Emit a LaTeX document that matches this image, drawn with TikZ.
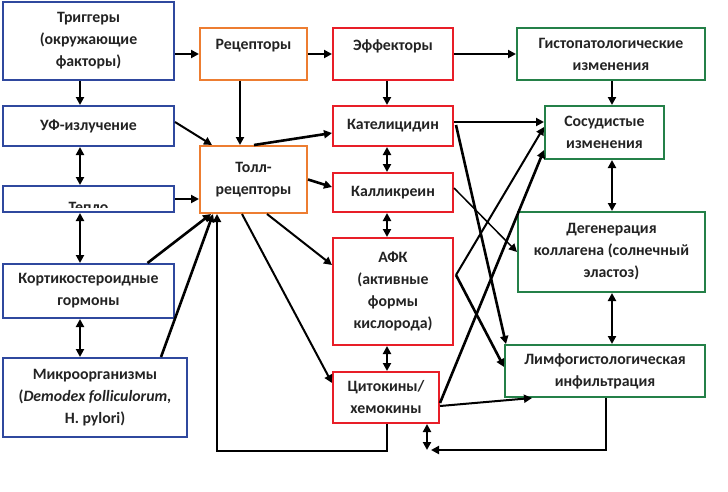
\documentclass[tikz,border=0pt]{standalone}
\usepackage{fontspec}
\setmainfont{Carlito}
\usetikzlibrary{arrows.meta,calc}
\definecolor{bblue}{RGB}{47,72,158}
\definecolor{borange}{RGB}{237,125,49}
\definecolor{bred}{RGB}{232,30,40}
\definecolor{bgreen}{RGB}{36,128,72}
\definecolor{txt}{RGB}{35,35,35}
\tikzset{
  box/.style={draw, line width=2pt, align=center, inner sep=0pt, text=txt,
    font=\fontsize{15.8}{22}\selectfont\bfseries},
  bluebox/.style={box, draw=bblue},
  orbox/.style={box, draw=borange},
  redbox/.style={box, draw=bred},
  grbox/.style={box, draw=bgreen},
  arr/.style={line width=2pt, -{Triangle[length=8pt,width=8pt]}},
  thickarr/.style={line width=2.6pt, -{Triangle[length=8pt,width=8pt]}},
  thinarr/.style={line width=1.5pt, -{Triangle[length=8pt,width=8pt]}},
  dbl/.style={line width=2.6pt, {Triangle[length=8pt,width=8pt]}-{Triangle[length=8pt,width=8pt]}},
}
\begin{document}
\begin{tikzpicture}[x=1pt,y=-1pt]
\useasboundingbox (0,0) rectangle (728,491);
% left column
\node[bluebox, minimum width=171pt, minimum height=78pt] (trig) at (88.5,41) {Триггеры\\(окружающие\\факторы)};
\node[bluebox, minimum width=171pt, minimum height=40pt] (uf) at (88.5,126) {УФ-излучение};
\begin{scope}
  \clip (4,187) rectangle (173,207);
  \node[text=txt, font=\fontsize{15.8}{22}\selectfont\bfseries, anchor=base] (teplotext) at (88.5,212) {Тепло};
\end{scope}
\node[bluebox, minimum width=171pt, minimum height=26pt] (teplo) at (88.5,199) {};
\node[bluebox, minimum width=171pt, minimum height=54pt] (kort) at (88.5,291) {Кортикостероидные\\гормоны};
\node[bluebox, minimum width=184pt, minimum height=79pt] (micro) at (95,397.5) {Микроорганизмы\\(\textit{Demodex folliculorum,}\\H. pylori)};
% orange column
\node[orbox, minimum width=107pt, minimum height=52pt] (rec) at (253.5,54) {Рецепторы\\[-10pt]\strut};
\node[orbox, minimum width=107pt, minimum height=67pt] (toll) at (253.5,179.5) {Толл-\\рецепторы};
% red column
\node[redbox, minimum width=120pt, minimum height=52pt] (eff) at (393,54) {Эффекторы\\[-10pt]\strut};
\node[redbox, minimum width=120pt, minimum height=40pt] (kat) at (393,126) {Кателицидин};
\node[redbox, minimum width=120pt, minimum height=39pt] (kal) at (393,192.5) {Калликреин};
\node[redbox, minimum width=120pt, minimum height=107pt] (afk) at (393,291.5) {АФК\\(активные\\формы\\кислорода)};
\node[redbox, minimum width=106pt, minimum height=51pt] (cyt) at (386,397.5) {Цитокины/\\хемокины};
% green column
\node[grbox, minimum width=188pt, minimum height=52pt] (hist) at (611,54) {Гистопатологические\\изменения};
\node[grbox, minimum width=119pt, minimum height=53pt] (sos) at (604.5,132.5) {Сосудистые\\изменения};
\node[grbox, minimum width=187pt, minimum height=80pt] (deg) at (611.5,252) {Дегенерация\\коллагена (солнечный\\эластоз)};
\node[grbox, minimum width=200pt, minimum height=52pt] (lim) at (605,371) {Лимфогистологическая\\инфильтрация};

% left column connectors
\draw[arr] (trig.east |- rec.west) -- (rec.west);
\draw[arr] ([xshift=-8.5pt]trig.south) -- ([xshift=-8.5pt]uf.north);
\draw[dbl] ([xshift=-8.5pt]uf.south) -- ([xshift=-8.5pt]teplo.north);
\draw[dbl] ([xshift=-8.5pt]teplo.south) -- ([xshift=-8.5pt]kort.north);
\draw[dbl] ([xshift=-8.5pt]kort.south) -- ([xshift=-15pt]micro.north);
\draw[arr] ([yshift=4pt]uf.east) -- ([xshift=13pt]toll.north west);
\draw[arr] (teplo.east) -- (toll.west |- teplo.east);
\draw[thickarr] ([xshift=-27.5pt]kort.north east) -- ([xshift=12pt]toll.south west);
\draw[thickarr] ([xshift=-27pt]micro.north east) -- ([xshift=14pt]toll.south west);
% feedback cyt -> toll
\draw[arr] ([xshift=1pt]cyt.south) -- ++(0,27) -| ([xshift=-36.5pt]toll.south);
% orange connectors
\draw[arr] (rec.east) -- (eff.west);
\draw[thickarr] ([xshift=-13.5pt]rec.south) -- ([xshift=-13.5pt]toll.north);
\draw[thickarr] ([xshift=55pt]toll.north west) -- ([yshift=-7pt]kat.west);
\draw[thickarr] (toll.east) -- ([yshift=5.5pt]kal.west);
\draw[arr] ([xshift=13.5pt]toll.south) -- ([yshift=26.5pt]afk.west);
\draw[arr] ([xshift=-11.5pt]toll.south) -- ([yshift=14.5pt]cyt.west);
% red column
\draw[thickarr] ([xshift=-6pt]eff.south) -- ([xshift=-6pt]kat.north);
\draw[dbl] ([xshift=-6pt]kat.south) -- ([xshift=-6pt]kal.north);
\draw[dbl] ([xshift=-6pt]kal.south) -- ([xshift=-6pt]afk.north);
\draw[dbl] ([xshift=-6pt]afk.south) -- ([xshift=1pt]cyt.north);
\draw[arr] (eff.east) -- (hist.west);
% green column
\draw[thickarr] ([xshift=1pt]hist.south) -- ([xshift=7.5pt]sos.north);
\draw[dbl] ([xshift=7.5pt]sos.south) -- ([xshift=0.5pt]deg.north);
\draw[dbl] ([xshift=0.5pt]deg.south) -- ([xshift=7pt]lim.north);
% lim -> cyt
\coordinate (fb) at (427,450);
\draw[arr] ([xshift=1pt]lim.south) |- ([xshift=4pt]fb);
\draw[dbl] (fb) -- (cyt.south -| fb);
% crossing connectors
\draw[arr] ([yshift=4pt]kat.east) -- ([yshift=10.5pt]sos.west);
\draw[thickarr] ([xshift=2pt,yshift=1pt]kat.east) -- ([xshift=2pt]lim.north west);
\draw[thinarr] ([yshift=4.5pt]kal.east) -- (deg.west);
\draw[arr] ([xshift=2pt,yshift=16.5pt]afk.east) -- ([yshift=5.5pt]sos.west);
\draw[thickarr] ([xshift=2pt,yshift=16.5pt]afk.east) -- ([yshift=4pt]lim.west);
\draw[thickarr] ([yshift=-5.5pt]cyt.east) -- ([yshift=-17.5pt]sos.west);
\draw[arr] ([yshift=-8.5pt]cyt.east) -- ([xshift=28pt]lim.south west);
\end{tikzpicture}
\end{document}
